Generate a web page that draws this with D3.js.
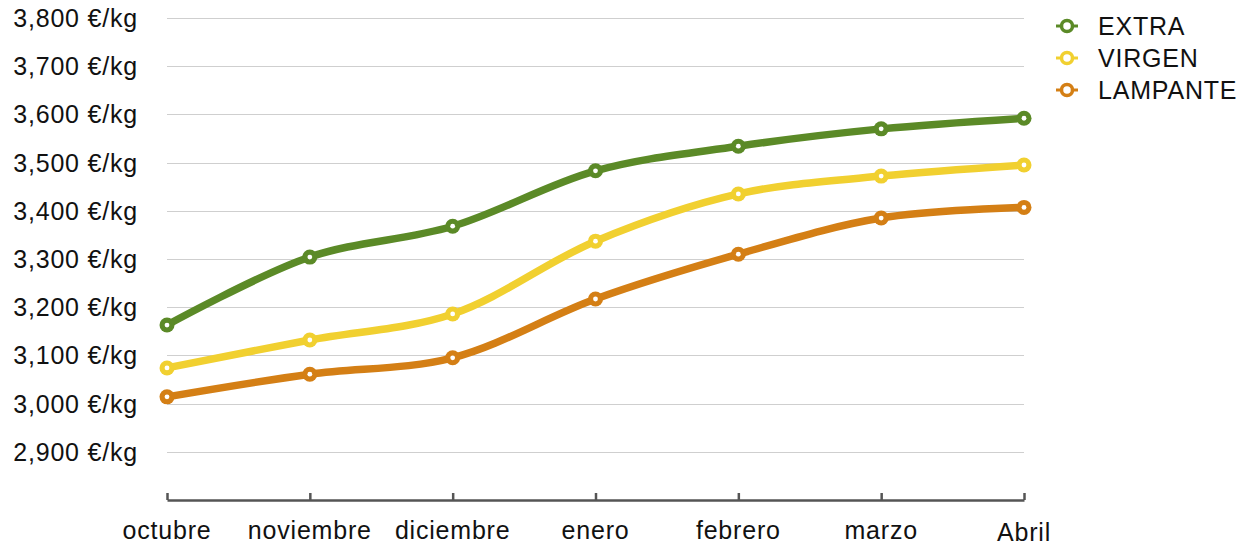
<!DOCTYPE html>
<html><head><meta charset="utf-8">
<script src="https://cdn.jsdelivr.net/npm/d3@7/dist/d3.min.js"></script>
<style>body{margin:0;background:#fff}svg{display:block}text{font-family:"Liberation Sans",Arial,Helvetica,sans-serif;letter-spacing:0.8px}</style>
</head><body>
<svg id="c" width="1248" height="546"></svg>
<script>
const months = ["octubre","noviembre","diciembre","enero","febrero","marzo","Abril"];
const extra = [3163,3304,3368,3483,3534,3570,3592];
const virgen = [3074,3132,3186,3337,3435,3472,3495];
const lampante = [3014,3061,3095,3217,3310,3385,3407];
const seriesNames = ["EXTRA","VIRGEN","LAMPANTE"];
const seriesColors = ["#5b8a27","#f1d030","#d47f15"];
const yTicks = [2900,3000,3100,3200,3300,3400,3500,3600,3700,3800];

const series = [extra, virgen, lampante].map((v,i)=>({name:seriesNames[i],color:seriesColors[i],values:v}));
const svg = d3.select("#c");
const x = d3.scalePoint().domain(months).range([167,1024]);
const y = d3.scaleLinear().domain([2800,3800]).range([500,18]);
const fmt = v => d3.format(",")(v) + " €/kg";

// gridlines
svg.append("g").selectAll("line").data(yTicks).join("line")
  .attr("x1",167).attr("x2",1024)
  .attr("y1",d=>Math.round(y(d))+0.5).attr("y2",d=>Math.round(y(d))+0.5)
  .attr("stroke","#cfcfcf").attr("stroke-width",1);

// y labels
svg.append("g").selectAll("text").data(yTicks).join("text")
  .attr("x",138).attr("y",d=>y(d)+9).attr("text-anchor","end")
  .attr("font-size",25).attr("fill","#111").text(fmt);

// x axis
const xAxis = d3.axisBottom(x).tickSizeInner(-7).tickSizeOuter(0).tickFormat("");
const gx = svg.append("g").attr("transform","translate(0,500)").call(xAxis);
gx.select(".domain").attr("stroke","#555").attr("stroke-width",2.5);
gx.selectAll(".tick line").attr("stroke","#555").attr("stroke-width",2.5);
svg.append("g").selectAll("text").data(months).join("text")
  .attr("x",d=>x(d)).attr("y",(d,i)=>i===months.length-1?541:539)
  .attr("text-anchor","middle").attr("font-size",25).attr("fill","#111").text(d=>d);

// lines
const line = d3.line().x((d,i)=>x(months[i])).y(d=>y(d)).curve(d3.curveCatmullRom.alpha(0.5));
svg.append("g").selectAll("path").data(series).join("path")
  .attr("d",d=>line(d.values)).attr("fill","none")
  .attr("stroke",d=>d.color).attr("stroke-width",7.5).attr("stroke-linecap","round");

// markers
series.forEach(s=>{
  const g = svg.append("g");
  g.selectAll("circle.o").data(s.values).join("circle").attr("class","o")
    .attr("cx",(d,i)=>x(months[i])).attr("cy",d=>y(d)).attr("r",7.5).attr("fill",s.color);
  g.selectAll("circle.i").data(s.values).join("circle").attr("class","i")
    .attr("cx",(d,i)=>x(months[i])).attr("cy",d=>y(d)).attr("r",2.4).attr("fill","#fff");
});

// legend
const lg = svg.append("g").selectAll("g").data(series).join("g")
  .attr("transform",(d,i)=>`translate(1067,${26+i*32})`);
lg.append("line").attr("x1",-11).attr("x2",11).attr("stroke",d=>d.color).attr("stroke-width",3);
lg.append("circle").attr("r",5.5).attr("fill","#fff").attr("stroke",d=>d.color).attr("stroke-width",3.5);
lg.append("text").attr("x",31).attr("y",9).attr("font-size",25).attr("fill","#111").text(d=>d.name);
</script>
</body></html>
